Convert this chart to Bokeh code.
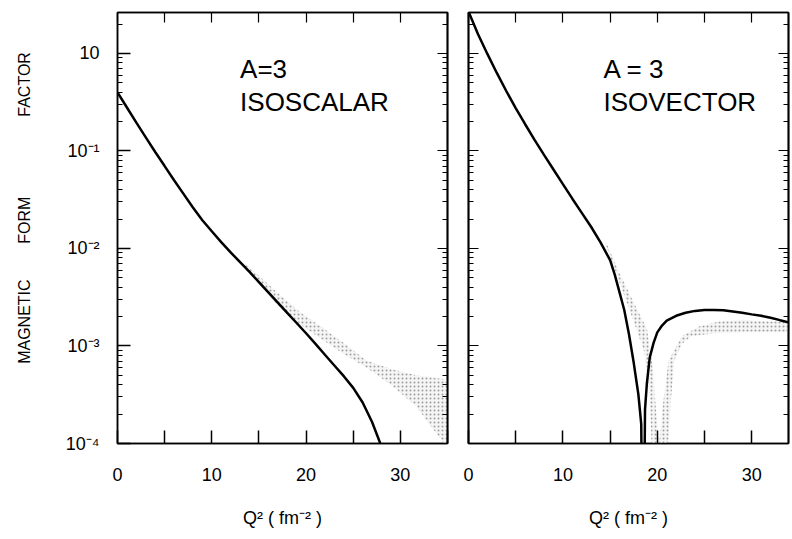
from bokeh.plotting import figure
from bokeh.layouts import row
from bokeh.models import Range1d, FixedTicker, LogAxis, LinearAxis
from bokeh.core.properties import value
from bokeh.embed import file_html
from bokeh.resources import INLINE

# ---------------- data ----------------
# Isoscalar theory curve
iso_s_q = [0, 1, 2, 3, 4, 5, 6, 7, 8, 9, 10, 11, 12, 13, 14, 15, 16, 17, 18, 19,
           20, 21, 22, 23, 24, 25, 26, 27, 28]
iso_s_f = [0.398, 0.279, 0.195, 0.138, 0.0977, 0.0700, 0.0501, 0.0363, 0.0263,
           0.0195, 0.0150, 0.0116, 0.00912, 0.00724, 0.00575, 0.00452, 0.00355,
           0.00279, 0.00219, 0.00172, 0.00135, 0.00105, 8.13e-4, 6.31e-4, 4.90e-4,
           3.72e-4, 2.63e-4, 1.66e-4, 9.3e-5]
# Isoscalar experimental band
band_s_q = [13.5, 17, 19.4, 21.5, 24, 26.4, 29, 31.7, 35]
band_s_hi = [7.1e-3, 3.5e-3, 2.2e-3, 1.6e-3, 1.07e-3, 7.1e-4, 5.8e-4, 5.0e-4, 4.5e-4]
band_s_lo = [6.3e-3, 2.6e-3, 1.66e-3, 1.2e-3, 8.3e-4, 6.0e-4, 4.0e-4, 2.4e-4, 8.9e-5]

# Isovector theory curve
iso_v_q = [0, 1, 2, 3, 4, 5, 6, 7, 8, 9, 10, 11, 12, 13, 14, 15, 15.5, 16, 16.5,
           17, 17.5, 18, 18.3, 18.5, 18.7, 18.9, 19.2, 19.6, 20.0, 20.5, 21, 22,
           23, 24, 25, 26, 27, 28, 29, 30, 31, 32, 33, 34, 35]
iso_v_f = [2.69, 1.585, 0.989, 0.631, 0.412, 0.275, 0.188, 0.130, 0.0912, 0.0646,
           0.0457, 0.0324, 0.0232, 0.0166, 0.0115, 0.00759, 0.00537, 0.00355,
           0.00234, 0.00132, 6.76e-4, 3.16e-4, 1.58e-4, 1e-6, 2.24e-4, 4.17e-4,
           7.59e-4, 1.07e-3, 1.38e-3, 1.62e-3, 1.82e-3, 2.04e-3, 2.19e-3, 2.29e-3,
           2.34e-3, 2.34e-3, 2.32e-3, 2.26e-3, 2.19e-3, 2.11e-3, 2.04e-3, 1.95e-3,
           1.84e-3, 1.74e-3, 1.66e-3]
# Isovector experimental band (outline)
band_v_q = [14.5, 16, 17.5, 18.6, 19.2, 19.5, 21.0, 21.4, 21.8, 22.6, 23.6, 26, 29,
            32.8, 35, 35, 32, 29, 26.5, 24.4, 22.6, 21.2, 20.6, 20.2, 19.9, 19.5,
            18.9, 17.5, 16, 14.5]
band_v_f = [1.12e-2, 4.5e-3, 1.78e-3, 8.9e-4, 3.2e-4, 5e-5, 5e-5, 2.5e-4, 7.1e-4,
            1.05e-3, 1.26e-3, 1.35e-3, 1.38e-3, 1.38e-3, 1.38e-3, 1.82e-3, 1.78e-3,
            1.86e-3, 1.78e-3, 1.58e-3, 1.26e-3, 7.1e-4, 2.5e-4, 1.0e-4, 2.0e-4,
            6.3e-4, 1.5e-3, 2.8e-3, 5.6e-3, 1.2e-2]

# panel annotations (text, Q position, value position)
ann_s = ["A=3", "ISOSCALAR"]
ann_v = ["A = 3", "ISOVECTOR"]
ann_y = [0.70, 0.315]
ann_x_s = 13.0
ann_x_v = 14.3

x_major = [0, 10, 20, 30]
x_minor = [5, 15, 25, 35]
x_all = [0, 5, 10, 15, 20, 25, 30, 35]
y_major = [1e-4, 1e-3, 1e-2, 1e-1, 1]
y_labels = {1e-4: "10⁻⁴", 1e-3: "10⁻³", 1e-2: "10⁻²", 1e-1: "10⁻¹", 1: "10"}
y_minor = [m * d for d in y_major[:-1] for m in range(2, 10)] + [2]

FONT = "Liberation Sans"
Y_TOP = 2.63
NB = "\u00a0"
YLABEL = NB * 9 + "MAGNETIC" + NB * 8 + "FORM" + NB * 18 + "FACTOR"


def tick_axis(cls, ticks, length):
    # an axis without labels: ticks given as minor ticks only
    return cls(ticker=FixedTicker(ticks=[], minor_ticks=ticks),
               minor_tick_in=length, minor_tick_out=0, minor_tick_line_width=1.2,
               axis_line_width=1.5, axis_line_color="black")


def style(p, show_y_labels):
    p.grid.visible = False
    p.outline_line_color = "black"
    p.outline_line_width = 1.5
    xa = p.xaxis[0]
    xa.ticker = FixedTicker(ticks=x_major, minor_ticks=x_minor)
    xa.major_tick_in = 13
    xa.major_tick_out = 0
    xa.minor_tick_in = 13
    xa.minor_tick_out = 0
    xa.major_tick_line_width = 1.5
    xa.minor_tick_line_width = 1.5
    xa.axis_line_width = 1.5
    xa.major_label_standoff = 24
    xa.major_label_text_font = FONT
    xa.major_label_text_font_size = "18px"
    xa.major_label_text_color = "black"
    xa.axis_label = "Q² ( fm⁻² )"
    xa.axis_label_text_font = FONT
    xa.axis_label_text_font_style = "normal"
    xa.axis_label_text_font_size = "18px"
    xa.axis_label_text_color = "black"
    xa.axis_label_standoff = 24
    if show_y_labels:
        ya = p.yaxis[0]
        ya.ticker = FixedTicker(ticks=y_major, minor_ticks=y_minor)
        ya.major_tick_in = 13
        ya.major_tick_out = 0
        ya.minor_tick_in = 5
        ya.minor_tick_out = 0
        ya.axis_line_width = 1.5
        ya.major_tick_line_width = 1.5
        ya.major_label_overrides = y_labels
        ya.major_label_standoff = 18
        ya.major_label_text_font = FONT
        ya.major_label_text_font_size = "18px"
        ya.major_label_text_color = "black"
        ya.axis_label = YLABEL
        ya.axis_label_text_font = FONT
        ya.axis_label_text_font_style = "normal"
        ya.axis_label_text_font_size = "16px"
        ya.axis_label_text_color = "black"
        ya.axis_label_standoff = 30
    else:
        p.yaxis.visible = False
        p.add_layout(tick_axis(LogAxis, y_major, 10), "left")
        p.add_layout(tick_axis(LogAxis, y_minor, 5), "left")
    p.add_layout(tick_axis(LinearAxis, x_all, 10), "above")
    p.add_layout(tick_axis(LogAxis, y_major, 10), "right")
    p.add_layout(tick_axis(LogAxis, y_minor, 5), "right")


common = dict(height=535, y_axis_type="log", output_backend="svg", toolbar_location=None,
              min_border_top=12, min_border_bottom=92, background_fill_color="white",
              border_fill_color="white")

p1 = figure(width=457, x_range=Range1d(0, 35), y_range=Range1d(1e-4, Y_TOP),
            min_border_left=117, min_border_right=10, **common)
p2 = figure(width=333, x_range=Range1d(0, 33.9), y_range=Range1d(1e-4, Y_TOP),
            min_border_left=11, min_border_right=2, **common)

style(p1, True)
style(p2, False)

band_kw = dict(fill_color="#f5f5f5", fill_alpha=1.0, hatch_pattern="dot",
               hatch_color="#a0a0a0", hatch_scale=4, hatch_weight=1.0)
p1.varea(x=band_s_q, y1=band_s_lo, y2=band_s_hi, **band_kw)
p2.patch(band_v_q, band_v_f, line_color=None, **band_kw)

p1.line(iso_s_q, iso_s_f, line_color="black", line_width=2.5)
p2.line(iso_v_q, iso_v_f, line_color="black", line_width=2.5)

txt = dict(text_font=value(FONT), text_font_size="26px", text_color="black",
           text_baseline="alphabetic", text_align="left")
p1.text(x=[ann_x_s] * 2, y=ann_y, text=ann_s, **txt)
p2.text(x=[ann_x_v] * 2, y=ann_y, text=ann_v, **txt)

layout = row(p1, p2)
open("out.html", "w").write(file_html(layout, INLINE))
